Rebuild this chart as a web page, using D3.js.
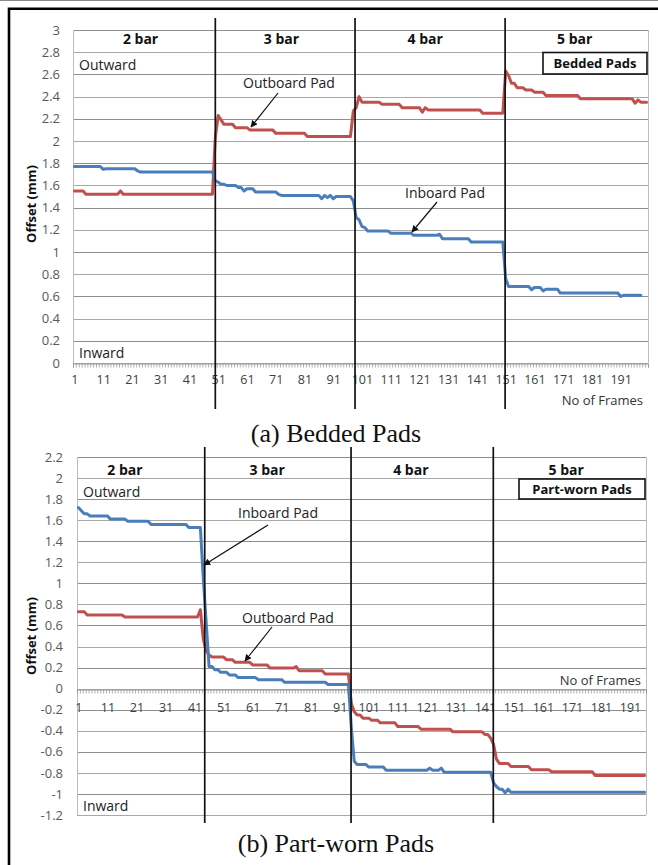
<!DOCTYPE html>
<html>
<head>
<meta charset="utf-8">
<script src="https://cdn.jsdelivr.net/npm/d3@7"></script>
<style>
  html, body { margin: 0; padding: 0; background: #fff; }
  svg { display: block; }
  text { font-family: "Open Sans", "DejaVu Sans", sans-serif; }
</style>
</head>
<body>
<svg id="fig" width="658" height="865"></svg>
<script>
// ---- Panel (a): bedded pads, offset per frame (mm) ----
const bedInboard = [
  1.77,1.77,1.77,1.77,1.77,1.77,1.77,1.77,1.77,1.77,
  1.745,1.75,1.75,1.75,1.75,1.75,1.75,1.75,1.75,1.75,
  1.75,1.75,1.73,1.72,1.72,1.72,1.72,1.72,1.72,1.72,
  1.72,1.72,1.72,1.72,1.72,1.72,1.72,1.72,1.72,1.72,
  1.72,1.72,1.72,1.72,1.72,1.72,1.72,1.72,1.72,1.64,
  1.63,1.61,1.61,1.60,1.60,1.60,1.60,1.58,1.58,1.55,
  1.57,1.57,1.57,1.54,1.54,1.54,1.54,1.54,1.54,1.54,
  1.54,1.52,1.51,1.51,1.51,1.51,1.51,1.51,1.51,1.51,
  1.51,1.51,1.51,1.51,1.51,1.51,1.48,1.51,1.49,1.51,
  1.48,1.50,1.50,1.50,1.50,1.50,1.50,1.46,1.31,1.29,
  1.23,1.22,1.19,1.19,1.19,1.19,1.19,1.19,1.19,1.19,
  1.17,1.17,1.17,1.17,1.17,1.17,1.17,1.17,1.15,1.15,
  1.15,1.15,1.15,1.15,1.15,1.15,1.15,1.16,1.12,1.12,
  1.12,1.12,1.12,1.12,1.12,1.12,1.12,1.12,1.09,1.09,
  1.09,1.09,1.09,1.09,1.09,1.09,1.09,1.09,1.09,1.09,
  0.76,0.69,0.69,0.69,0.69,0.69,0.69,0.69,0.69,0.66,
  0.68,0.68,0.68,0.65,0.665,0.665,0.665,0.665,0.665,0.63,
  0.63,0.63,0.63,0.63,0.63,0.63,0.63,0.63,0.63,0.63,
  0.63,0.63,0.63,0.63,0.63,0.63,0.63,0.63,0.63,0.63,
  0.60,0.61,0.61,0.61,0.61,0.61,0.61,0.61
];
const bedOutboard = [
  1.55,1.55,1.55,1.55,1.52,1.52,1.52,1.52,1.52,1.52,
  1.52,1.52,1.52,1.52,1.52,1.52,1.55,1.52,1.52,1.52,
  1.52,1.52,1.52,1.52,1.52,1.52,1.52,1.52,1.52,1.52,
  1.52,1.52,1.52,1.52,1.52,1.52,1.52,1.52,1.52,1.52,
  1.52,1.52,1.52,1.52,1.52,1.52,1.52,1.52,1.52,2.03,
  2.23,2.19,2.15,2.15,2.15,2.15,2.12,2.12,2.12,2.12,
  2.12,2.10,2.10,2.10,2.10,2.10,2.10,2.10,2.10,2.10,
  2.07,2.07,2.07,2.07,2.07,2.07,2.07,2.07,2.07,2.07,
  2.07,2.04,2.04,2.04,2.04,2.04,2.04,2.04,2.04,2.04,
  2.04,2.04,2.04,2.04,2.04,2.04,2.04,2.27,2.30,2.40,
  2.35,2.35,2.35,2.35,2.35,2.35,2.35,2.33,2.33,2.33,
  2.33,2.33,2.33,2.33,2.30,2.30,2.30,2.30,2.30,2.30,
  2.30,2.26,2.30,2.28,2.28,2.28,2.28,2.28,2.28,2.28,
  2.28,2.28,2.28,2.28,2.28,2.28,2.28,2.28,2.28,2.28,
  2.28,2.28,2.25,2.25,2.25,2.25,2.25,2.25,2.25,2.25,
  2.63,2.59,2.52,2.52,2.48,2.48,2.48,2.46,2.46,2.46,
  2.44,2.44,2.44,2.44,2.41,2.41,2.41,2.41,2.41,2.41,
  2.41,2.41,2.41,2.41,2.41,2.41,2.38,2.38,2.38,2.38,
  2.38,2.38,2.38,2.38,2.38,2.38,2.38,2.38,2.38,2.38,
  2.38,2.38,2.38,2.38,2.38,2.34,2.37,2.35,2.35,2.35
];

// ---- Panel (b): part-worn pads, offset per frame (mm) ----
const wornInboard = [
  1.72,1.69,1.66,1.66,1.64,1.64,1.64,1.64,1.64,1.64,
  1.64,1.61,1.61,1.61,1.61,1.61,1.61,1.59,1.59,1.59,
  1.59,1.59,1.59,1.59,1.59,1.56,1.56,1.56,1.56,1.56,
  1.56,1.56,1.56,1.56,1.56,1.56,1.56,1.56,1.53,1.53,
  1.53,1.53,1.53,1.05,0.63,0.21,0.21,0.18,0.18,0.155,
  0.155,0.155,0.13,0.13,0.13,0.105,0.105,0.105,0.105,0.105,
  0.105,0.105,0.085,0.085,0.085,0.085,0.085,0.085,0.085,0.085,
  0.085,0.06,0.06,0.06,0.06,0.06,0.06,0.06,0.06,0.06,
  0.06,0.06,0.06,0.06,0.06,0.06,0.04,0.04,0.04,0.04,
  0.04,0.04,0.04,0.04,-0.37,-0.69,-0.72,-0.72,-0.72,-0.72,
  -0.745,-0.745,-0.745,-0.745,-0.745,-0.745,-0.775,-0.775,-0.775,-0.775,
  -0.775,-0.775,-0.775,-0.775,-0.775,-0.775,-0.775,-0.775,-0.775,-0.775,
  -0.775,-0.755,-0.775,-0.775,-0.775,-0.755,-0.795,-0.795,-0.795,-0.795,
  -0.795,-0.795,-0.795,-0.795,-0.795,-0.795,-0.795,-0.795,-0.795,-0.795,
  -0.795,-0.795,-0.795,-0.895,-0.93,-0.955,-0.955,-0.99,-0.955,-0.985,
  -0.985,-0.985,-0.985,-0.985,-0.985,-0.985,-0.985,-0.985,-0.985,-0.985,
  -0.985,-0.985,-0.985,-0.985,-0.985,-0.985,-0.985,-0.985,-0.985,-0.985,
  -0.985,-0.985,-0.985,-0.985,-0.985,-0.985,-0.985,-0.985,-0.985,-0.985,
  -0.985,-0.985,-0.985,-0.985,-0.985,-0.985,-0.985,-0.985,-0.985,-0.985,
  -0.985,-0.985,-0.985,-0.985,-0.985,-0.985
];
const wornOutboard = [
  0.73,0.73,0.73,0.70,0.70,0.70,0.70,0.70,0.70,0.70,
  0.70,0.70,0.70,0.70,0.70,0.70,0.68,0.68,0.68,0.68,
  0.68,0.68,0.68,0.68,0.68,0.68,0.68,0.68,0.68,0.68,
  0.68,0.68,0.68,0.68,0.68,0.68,0.68,0.68,0.68,0.68,
  0.68,0.68,0.75,0.47,0.36,0.32,0.30,0.30,0.30,0.30,
  0.30,0.275,0.275,0.275,0.25,0.25,0.25,0.25,0.25,0.25,
  0.225,0.225,0.225,0.225,0.225,0.225,0.195,0.195,0.195,0.195,
  0.195,0.195,0.195,0.195,0.195,0.21,0.17,0.17,0.17,0.17,
  0.17,0.17,0.17,0.17,0.17,0.14,0.14,0.14,0.14,0.14,
  0.14,0.14,0.14,0.14,-0.14,-0.22,-0.25,-0.25,-0.28,-0.28,
  -0.28,-0.30,-0.30,-0.30,-0.325,-0.325,-0.325,-0.325,-0.325,-0.325,
  -0.36,-0.36,-0.36,-0.36,-0.36,-0.36,-0.36,-0.36,-0.385,-0.385,
  -0.385,-0.385,-0.385,-0.385,-0.385,-0.385,-0.385,-0.385,-0.385,-0.41,
  -0.41,-0.41,-0.41,-0.41,-0.41,-0.41,-0.41,-0.41,-0.41,-0.41,
  -0.435,-0.435,-0.47,-0.53,-0.67,-0.71,-0.71,-0.71,-0.71,-0.74,
  -0.74,-0.74,-0.74,-0.74,-0.74,-0.74,-0.77,-0.77,-0.77,-0.77,
  -0.77,-0.77,-0.77,-0.79,-0.79,-0.79,-0.79,-0.79,-0.79,-0.79,
  -0.79,-0.79,-0.79,-0.79,-0.79,-0.79,-0.79,-0.79,-0.825,-0.825,
  -0.825,-0.825,-0.825,-0.825,-0.825,-0.825,-0.825,-0.825,-0.825,-0.825,
  -0.825,-0.825,-0.825,-0.825,-0.825,-0.825
];

// ---- Axis ticks and annotation text ----
const frameTickLabels = [1, 11, 21, 31, 41, 51, 61, 71, 81, 91, 101, 111, 121, 131, 141, 151, 161, 171, 181, 191];
const bedYTicks = [0, 0.2, 0.4, 0.6, 0.8, 1, 1.2, 1.4, 1.6, 1.8, 2, 2.2, 2.4, 2.6, 2.8, 3];
const wornYTicks = [-1.2, -1, -0.8, -0.6, -0.4, -0.2, 0, 0.2, 0.4, 0.6, 0.8, 1, 1.2, 1.4, 1.6, 1.8, 2, 2.2];
const pressureLabels = ["2 bar", "3 bar", "4 bar", "5 bar"];
// frame at which each pressure step begins / where its heading sits
const bedSteps = [50, 98.6, 150.8];
const bedHeadingFrames = [24, 73, 123, 175];
const wornSteps = [44.5, 94.9, 143.9];
const wornHeadingFrames = [17, 66, 115.5, 169];

const COLOR_IN = "#4a7ebb";
const COLOR_OUT = "#c0504d";

const svg = d3.select("#fig");

// Arrowhead marker for the callouts
svg.append("defs").append("marker")
  .attr("id", "arrow")
  .attr("viewBox", "0 0 10 10")
  .attr("refX", 9).attr("refY", 5)
  .attr("markerWidth", 7).attr("markerHeight", 7)
  .attr("markerUnits", "userSpaceOnUse")
  .attr("orient", "auto")
  .append("path").attr("d", "M0,0 L10,5 L0,10 Z").attr("fill", "#111");

// Figure frame
svg.append("line").attr("x1", 0).attr("x2", 658).attr("y1", 0.5).attr("y2", 0.5)
  .attr("stroke", "#8a8a8a").attr("stroke-width", 1);
svg.append("path").attr("d", "M9,865 V8.7 H658")
  .attr("fill", "none").attr("stroke", "#000").attr("stroke-width", 2.6);

function drawPanel(cfg) {
  const g = svg.append("g");
  const n = cfg.frames;
  const x = d3.scaleLinear().domain([0.5, n + 0.5]).range([cfg.left, cfg.right]);
  const y = d3.scaleLinear().domain(cfg.yDomain).range([cfg.bottom, cfg.top]);

  // horizontal gridlines
  g.append("g").selectAll("line").data(cfg.yTicks).join("line")
    .attr("x1", cfg.left).attr("x2", cfg.right)
    .attr("y1", d => Math.round(y(d)) + 0.5).attr("y2", d => Math.round(y(d)) + 0.5)
    .attr("stroke", (d, i) => i % 2 ? "#8f8f8f" : "#a8a8a8").attr("stroke-width", 1);

  // plot-area side borders
  g.append("line").attr("x1", cfg.left + 0.5).attr("x2", cfg.left + 0.5)
    .attr("y1", cfg.top).attr("y2", cfg.bottom).attr("stroke", "#bdbdbd");
  g.append("line").attr("x1", cfg.right + 0.5).attr("x2", cfg.right + 0.5)
    .attr("y1", cfg.top).attr("y2", cfg.bottom).attr("stroke", "#bdbdbd");

  // y axis labels
  const yAxis = d3.axisLeft(y).tickValues(cfg.yTicks).tickSize(0).tickPadding(0)
    .tickFormat(d => String(d));
  const ya = g.append("g").attr("transform", `translate(${cfg.yLabelX},0)`).call(yAxis);
  ya.select(".domain").remove();
  ya.selectAll("text").attr("fill", "#595959").style("font-size", "13px")
    .style("font-family", "'Open Sans', sans-serif");

  // category axis at zero: minor tick per frame + labels
  const zeroY = Math.round(y(0)) + 0.5;
  const minor = d3.axisBottom(x).tickValues(d3.range(0.5, n + 1, 1)).tickSize(4).tickFormat("");
  const mg = g.append("g").attr("transform", `translate(0,${zeroY})`).call(minor);
  mg.select(".domain").attr("stroke", "#9a9a9a");
  mg.selectAll(".tick line").attr("stroke", "#9a9a9a").attr("stroke-width", 0.8);

  const lab = d3.axisBottom(x).tickValues(frameTickLabels).tickSize(0).tickPadding(0)
    .tickFormat(d => String(d));
  const lg = g.append("g").attr("transform", `translate(0,${cfg.xLabelY})`).call(lab);
  lg.select(".domain").remove();
  lg.selectAll("text").attr("fill", "#404040").attr("dy", "0.35em")
    .style("font-size", "12.5px").style("font-family", "'Open Sans', sans-serif");

  // series
  const line = d3.line().x((d, i) => x(i + 1)).y(d => y(d));
  [[cfg.outboard, COLOR_OUT], [cfg.inboard, COLOR_IN]].forEach(([vals, c]) => {
    g.append("path").datum(vals).attr("d", line)
      .attr("fill", "none").attr("stroke", c).attr("stroke-width", 3)
      .attr("stroke-linejoin", "round").attr("stroke-linecap", "round");
  });

  // pressure step dividers
  g.append("g").selectAll("line").data(cfg.steps).join("line")
    .attr("x1", d => x(d)).attr("x2", d => x(d))
    .attr("y1", cfg.divTop).attr("y2", cfg.divBottom)
    .attr("stroke", "#111").attr("stroke-width", 1.7);

  // pressure headings
  g.append("g").selectAll("text").data(pressureLabels).join("text")
    .attr("x", (d, i) => x(cfg.headingFrames[i])).attr("y", cfg.headingY)
    .attr("text-anchor", "middle").attr("dy", "0.35em")
    .style("font-size", "14px").style("font-weight", "700").attr("fill", "#111")
    .text(d => d);

  // direction notes
  g.append("text").attr("x", cfg.left + 6).attr("y", cfg.outwardY).attr("dy", "0.35em")
    .style("font-size", "14px").attr("fill", "#222").text("Outward");
  g.append("text").attr("x", cfg.left + 6).attr("y", cfg.inwardY).attr("dy", "0.35em")
    .style("font-size", "14px").attr("fill", "#222").text("Inward");
  g.append("text").attr("x", cfg.right - 5).attr("y", cfg.framesY).attr("dy", "0.35em")
    .attr("text-anchor", "end").style("font-size", "13px").attr("fill", "#333")
    .text("No of Frames");

  // y axis title
  g.append("text").attr("transform", `translate(${cfg.titleX},${cfg.titleY}) rotate(-90)`)
    .attr("text-anchor", "middle").attr("dy", "0.35em")
    .style("font-size", "13px").style("font-weight", "700").attr("fill", "#111")
    .text("Offset (mm)");

  // boxed panel tag
  const b = cfg.tagBox;
  g.append("rect").attr("x", b[0]).attr("y", b[1]).attr("width", b[2] - b[0]).attr("height", b[3] - b[1])
    .attr("fill", "#fff").attr("stroke", "#111").attr("stroke-width", 1.6);
  g.append("text").attr("x", (b[0] + b[2]) / 2).attr("y", (b[1] + b[3]) / 2).attr("dy", "0.35em")
    .attr("text-anchor", "middle").style("font-size", "13px").style("font-weight", "700")
    .attr("fill", "#111").text(cfg.tag);

  // callouts
  cfg.callouts.forEach(c => {
    g.append("text").attr("x", c.tx).attr("y", c.ty).attr("dy", "0.35em")
      .style("font-size", "14px").attr("fill", "#222").text(c.text);
    g.append("line").attr("x1", c.from[0]).attr("y1", c.from[1])
      .attr("x2", c.to[0]).attr("y2", c.to[1])
      .attr("stroke", "#111").attr("stroke-width", 1.2).attr("marker-end", "url(#arrow)");
  });

  // caption
  svg.append("text").attr("x", 336).attr("y", cfg.captionY).attr("text-anchor", "middle")
    .style("font-family", "'Liberation Serif', 'Times New Roman', serif")
    .style("font-size", "26px").attr("fill", "#111").text(cfg.caption);
}

drawPanel({
  frames: 200, left: 73, right: 648, top: 30, bottom: 363, yDomain: [0, 3],
  yTicks: bedYTicks, yLabelX: 60, xLabelY: 380,
  inboard: bedInboard, outboard: bedOutboard,
  steps: bedSteps, headingFrames: bedHeadingFrames, headingY: 39,
  divTop: 18, divBottom: 409,
  outwardY: 65, inwardY: 353, framesY: 400,
  titleX: 31, titleY: 204,
  tag: "Bedded Pads", tagBox: [543, 52.5, 647, 74],
  callouts: [
    { text: "Outboard Pad", tx: 243, ty: 83, from: [278, 93], to: [251, 127] },
    { text: "Inboard Pad", tx: 405, ty: 193, from: [437, 202], to: [412, 232] }
  ],
  caption: "(a) Bedded Pads", captionY: 442
});

drawPanel({
  frames: 196, left: 77, right: 646, top: 457, bottom: 815, yDomain: [-1.2, 2.2],
  yTicks: wornYTicks, yLabelX: 63, xLabelY: 708,
  inboard: wornInboard, outboard: wornOutboard,
  steps: wornSteps, headingFrames: wornHeadingFrames, headingY: 470,
  divTop: 447, divBottom: 823,
  outwardY: 492, inwardY: 806, framesY: 680,
  titleX: 31, titleY: 636,
  tag: "Part-worn Pads", tagBox: [519, 479, 645, 499],
  callouts: [
    { text: "Inboard Pad", tx: 238, ty: 513, from: [268, 525], to: [204, 565] },
    { text: "Outboard Pad", tx: 242, ty: 618, from: [272, 627], to: [245, 661] }
  ],
  caption: "(b) Part-worn Pads", captionY: 852
});
</script>
</body>
</html>
